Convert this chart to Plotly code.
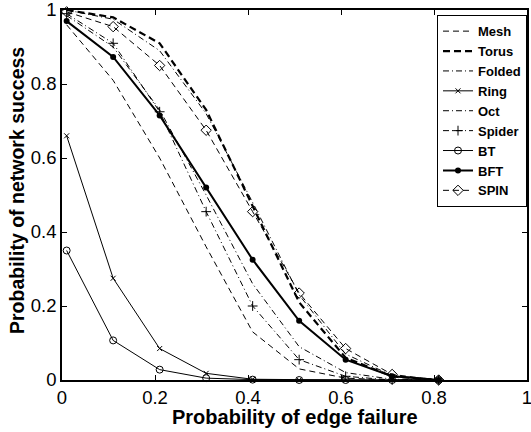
import plotly.graph_objects as go

x_fail = [0.01, 0.11, 0.21, 0.31, 0.41, 0.51, 0.61, 0.71, 0.81]

mesh   = [0.96, 0.81, 0.60, 0.36, 0.13, 0.03, 0.005, 0.0, 0.0]
torus  = [1.00, 0.98, 0.91, 0.73, 0.47, 0.21, 0.06, 0.01, 0.0]
folded = [0.985, 0.90, 0.73, 0.50, 0.26, 0.09, 0.02, 0.002, 0.0]
ring   = [0.66, 0.275, 0.085, 0.018, 0.002, 0.0, 0.0, 0.0, 0.0]
octv   = [1.00, 0.975, 0.89, 0.72, 0.48, 0.23, 0.07, 0.012, 0.0]
spider = [0.99, 0.91, 0.725, 0.455, 0.20, 0.055, 0.01, 0.0, 0.0]
bt     = [0.35, 0.107, 0.028, 0.005, 0.001, 0.0, 0.0, 0.0, 0.0]
bft    = [0.97, 0.873, 0.715, 0.52, 0.325, 0.16, 0.055, 0.01, 0.0]
spin   = [0.995, 0.955, 0.85, 0.675, 0.455, 0.235, 0.085, 0.015, 0.0]

ticks = [0, 0.2, 0.4, 0.6, 0.8, 1]
tick_text = ["0", "0.2", "0.4", "0.6", "0.8", "1"]

series = [
    ("Mesh", mesh, dict(width=1, dash="6px,4px"), None),
    ("Torus", torus, dict(width=2.2, dash="7px,4px"), None),
    ("Folded", folded, dict(width=1, dash="6px,3px,1px,3px"), None),
    ("Ring", ring, dict(width=1), dict(symbol="x-thin", size=5, line=dict(width=1, color="black"))),
    ("Oct", octv, dict(width=1, dash="6px,3px,1px,3px"), None),
    ("Spider", spider, dict(width=1, dash="6px,3px,1px,3px"), dict(symbol="cross-thin", size=7, line=dict(width=1, color="black"))),
    ("BT", bt, dict(width=1), dict(symbol="circle-open", size=7, line=dict(width=1, color="black"))),
    ("BFT", bft, dict(width=2), dict(symbol="circle", size=6, color="black")),
    ("SPIN", spin, dict(width=1, dash="6px,4px"), dict(symbol="diamond-open", size=8, line=dict(width=1, color="black"))),
]

fig = go.Figure()
for name, ys, line, marker in series:
    line = dict(line, color="black")
    kw = dict(x=x_fail, y=ys, name=name, line=line, cliponaxis=False)
    if marker is None:
        kw["mode"] = "lines"
    else:
        m = dict(marker)
        m.setdefault("color", "black")
        kw["mode"] = "lines+markers"
        kw["marker"] = m
    fig.add_trace(go.Scatter(**kw))

axis_common = dict(
    range=[0, 1], tickvals=ticks, ticktext=tick_text,
    ticks="inside", ticklen=5, tickwidth=1, tickcolor="black",
    showline=True, linecolor="black", linewidth=1.5, mirror="ticks",
    showgrid=False, zeroline=False, automargin=False,
    ticklabeloverflow="allow", ticklabelstandoff=0,
    tickfont=dict(family="Liberation Sans, Arial", size=18.5, color="black"),
)

title_font = dict(family="Liberation Sans, Arial", size=20, color="black")

fig.update_layout(
    width=531, height=432,
    margin=dict(l=62, r=4, t=10, b=52),
    paper_bgcolor="white", plot_bgcolor="white",
    showlegend=True,
    legend=dict(
        x=1.0, y=0.986, xanchor="right", yanchor="top",
        bgcolor="white", bordercolor="black", borderwidth=1,
        font=dict(family="Liberation Sans, Arial", size=13, color="black", weight="bold"),
        tracegroupgap=0, itemwidth=30,
    ),
    xaxis=axis_common,
    yaxis=axis_common,
    annotations=[
        dict(text="<b>Probability of edge failure</b>", xref="paper", yref="paper",
             x=0.5, y=-0.1, xanchor="center", yanchor="middle",
             showarrow=False, font=title_font),
        dict(text="<b>Probability of network success</b>", xref="paper", yref="paper",
             x=-0.0968, y=0.5135, xanchor="center", yanchor="middle", textangle=-90,
             showarrow=False, font=dict(title_font, size=19.5)),
    ],
)

fig.write_html("out.html", config={"displayModeBar": False},
               post_script="document.body.style.margin='0';document.body.style.overflow='hidden';")
